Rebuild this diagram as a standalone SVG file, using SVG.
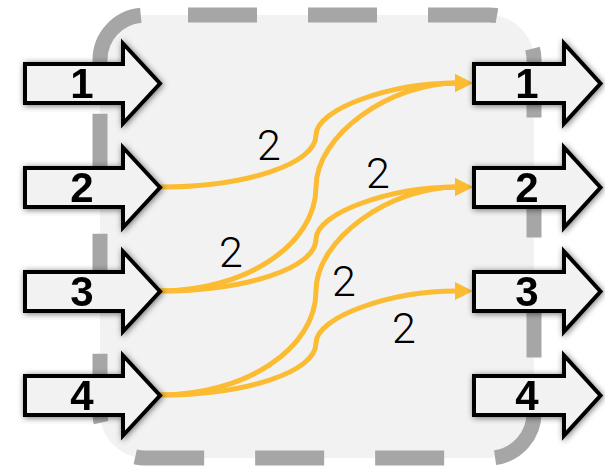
<svg xmlns="http://www.w3.org/2000/svg" width="605" height="469" viewBox="0 0 605 469">
  <style>
    .frame { fill: #f2f2f2; stroke: #a6a6a6; stroke-width: 15; stroke-dasharray: 69 51; stroke-dashoffset: 77; }
    .port { fill: #f2f2f2; stroke: #000000; stroke-width: 4; stroke-linejoin: miter; stroke-miterlimit: 10; }
    .port-label { font-family: "Liberation Sans", Arial, sans-serif; font-weight: bold; font-size: 42px; fill: #000000; text-anchor: middle; }
    .flow { fill: none; stroke: #fbbc33; stroke-width: 5; marker-end: url(#head); }
    .weight { font-family: Roboto, "Liberation Sans", sans-serif; font-weight: 300; font-size: 43px; fill: #000000; text-anchor: middle; }
  </style>
  <defs>
    <filter id="shadow" x="-20%" y="-20%" width="140%" height="140%">
      <feGaussianBlur in="SourceAlpha" stdDeviation="3"/>
      <feOffset dx="1" dy="1" result="blur"/>
      <feComponentTransfer><feFuncA type="linear" slope="0.55"/></feComponentTransfer>
      <feMerge><feMergeNode/><feMergeNode in="SourceGraphic"/></feMerge>
    </filter>
    <marker id="head" markerUnits="userSpaceOnUse" markerWidth="18" markerHeight="18" refX="2" refY="9" orient="auto">
      <path d="M0,0 L18,9 L0,18 z" fill="#fbbc33"/>
    </marker>
    <!-- input port shape, centred on y = 0 -->
    <path id="in-port" class="port" d="M25,-19.5 H123 V-40 L160,0 L123,40 V19.5 H25 Z"/>
    <!-- output port shape, centred on y = 0 -->
    <path id="out-port" class="port" d="M474,-19.5 H564 V-40 L600.5,0 L564,40 V19.5 H474 Z"/>
  </defs>

  <rect width="605" height="469" fill="#ffffff"/>

  <!-- dashed switch boundary -->
  <rect class="frame" x="100" y="15" width="434" height="443" rx="45" ry="45"/>

  <!-- connectors -->
  <g id="connectors">
    <path class="flow" d="M160,187 C246,187 316,164 316,135 C316,109 390,83 457,83"/>
    <path class="flow" d="M160,291 C246,291 316,244 316,187 C316,135 390,83 457,83"/>
    <path class="flow" d="M160,291 C246,291 316,268 316,239 C316,213 390,187 457,187"/>
    <path class="flow" d="M160,395 C246,395 316,348 316,291 C316,239 390,187 457,187"/>
    <path class="flow" d="M160,395 C246,395 316,372 316,343 C316,317 390,291 457,291"/>
    <text class="weight" x="269" y="160">2</text>
    <text class="weight" x="378" y="188">2</text>
    <text class="weight" x="231" y="267">2</text>
    <text class="weight" x="344" y="296">2</text>
    <text class="weight" x="404" y="343">2</text>
  </g>

  <!-- input ports -->
  <g id="in-1" filter="url(#shadow)"><use href="#in-port" transform="translate(0,83.5)"/><text class="port-label" x="82" y="98">1</text></g>
  <g id="in-2" filter="url(#shadow)"><use href="#in-port" transform="translate(0,187.5)"/><text class="port-label" x="82" y="202">2</text></g>
  <g id="in-3" filter="url(#shadow)"><use href="#in-port" transform="translate(0,291.5)"/><text class="port-label" x="82" y="306">3</text></g>
  <g id="in-4" filter="url(#shadow)"><use href="#in-port" transform="translate(0,395.5)"/><text class="port-label" x="82" y="410">4</text></g>

  <!-- output ports -->
  <g id="out-1" filter="url(#shadow)"><use href="#out-port" transform="translate(0,83.5)"/><text class="port-label" x="527" y="98">1</text></g>
  <g id="out-2" filter="url(#shadow)"><use href="#out-port" transform="translate(0,187.5)"/><text class="port-label" x="527" y="202">2</text></g>
  <g id="out-3" filter="url(#shadow)"><use href="#out-port" transform="translate(0,291.5)"/><text class="port-label" x="527" y="306">3</text></g>
  <g id="out-4" filter="url(#shadow)"><use href="#out-port" transform="translate(0,395.5)"/><text class="port-label" x="527" y="410">4</text></g>
</svg>
